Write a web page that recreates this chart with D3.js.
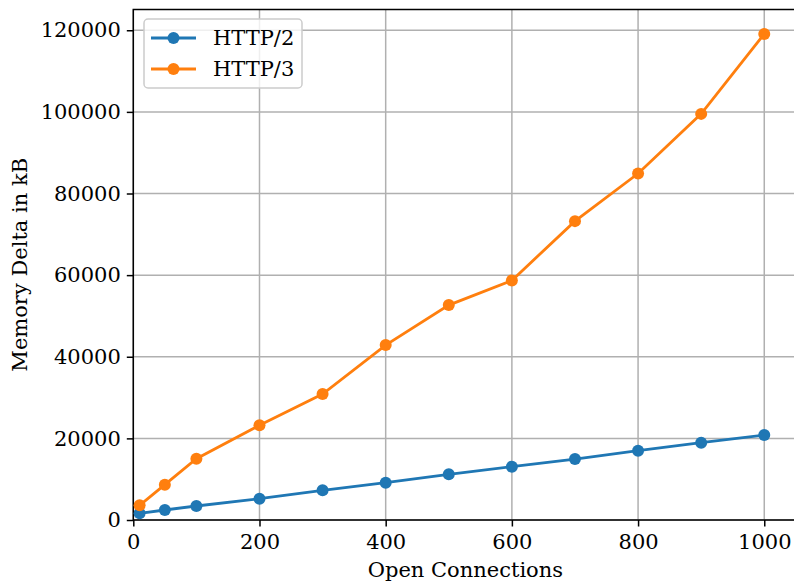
<!DOCTYPE html>
<html>
<head>
<meta charset="utf-8">
<script src="https://cdn.jsdelivr.net/npm/d3@7"></script>
<style>
  body { margin: 0; background: #fff; }
  svg { font-family: "DejaVu Serif", serif; }
</style>
</head>
<body>
<svg width="794" height="581"></svg>
<script>
// Data
const connections = [10, 50, 100, 200, 300, 400, 500, 600, 700, 800, 900, 1000];
const http2 = [1640, 2450, 3430, 5220, 7270, 9140, 11190, 13060, 14940, 16980, 18940, 20820];
const http3 = [3590, 8650, 15020, 23190, 30860, 42860, 52660, 58700, 73230, 84900, 99510, 119100];
const xTicks = [0, 200, 400, 600, 800, 1000];
const yTicks = [0, 20000, 40000, 60000, 80000, 100000, 120000];

const series = [
  { name: "HTTP/2", color: "#1f77b4", values: http2 },
  { name: "HTTP/3", color: "#ff7f0e", values: http3 }
];

const svg = d3.select("svg");
const plotLeft = 133.3, plotRight = 795.5, plotTop = 9.5, plotBottom = 520;
const fontSize = 21;

const x = d3.scaleLinear().domain([0, 1049.5]).range([plotLeft, plotRight]);
const y = d3.scaleLinear().domain([0, 125085]).range([plotBottom, plotTop]);

// Grid
const grid = svg.append("g").attr("stroke", "#b0b0b0").attr("stroke-width", 1.5);
grid.selectAll(".gx").data(xTicks).join("line")
  .attr("x1", d => x(d)).attr("x2", d => x(d))
  .attr("y1", plotTop).attr("y2", plotBottom);
grid.selectAll(".gy").data(yTicks).join("line")
  .attr("x1", plotLeft).attr("x2", plotRight)
  .attr("y1", d => y(d)).attr("y2", d => y(d));

// Axes
const xAxis = svg.append("g")
  .attr("transform", `translate(0,${plotBottom})`)
  .call(d3.axisBottom(x).tickValues(xTicks).tickSize(6.5).tickPadding(8).tickFormat(d3.format("d")));
const yAxis = svg.append("g")
  .attr("transform", `translate(${plotLeft},0)`)
  .call(d3.axisLeft(y).tickValues(yTicks).tickSize(6.5).tickPadding(6).tickFormat(d3.format("d")));

[xAxis, yAxis].forEach(a => {
  a.select(".domain").remove();
  a.selectAll(".tick line").attr("stroke", "#000").attr("stroke-width", 1.5);
  a.selectAll(".tick text").attr("font-size", fontSize).attr("font-family", "DejaVu Serif").attr("fill", "#000");
});

// Spines
svg.append("rect")
  .attr("x", plotLeft).attr("y", plotTop)
  .attr("width", plotRight - plotLeft).attr("height", plotBottom - plotTop)
  .attr("fill", "none").attr("stroke", "#000").attr("stroke-width", 1.5);

// Lines and markers
const line = d3.line().x((d, i) => x(connections[i])).y(d => y(d));
series.forEach(s => {
  svg.append("path")
    .datum(s.values)
    .attr("d", line)
    .attr("fill", "none")
    .attr("stroke", s.color)
    .attr("stroke-width", 2.8);
  svg.append("g").selectAll("circle")
    .data(s.values)
    .join("circle")
    .attr("cx", (d, i) => x(connections[i]))
    .attr("cy", d => y(d))
    .attr("r", 6)
    .attr("fill", s.color);
});

// Axis labels
svg.append("text")
  .attr("x", (plotLeft + plotRight) / 2 + 1)
  .attr("y", 577)
  .attr("text-anchor", "middle")
  .attr("font-size", fontSize)
  .text("Open Connections");

svg.append("text")
  .attr("transform", `translate(27,${(plotTop + plotBottom) / 2}) rotate(-90)`)
  .attr("text-anchor", "middle")
  .attr("font-size", fontSize)
  .text("Memory Delta in kB");

// Legend
const legend = svg.append("g");
legend.append("rect")
  .attr("x", 144).attr("y", 19)
  .attr("width", 158).attr("height", 69)
  .attr("rx", 4)
  .attr("fill", "#fff").attr("fill-opacity", 0.8)
  .attr("stroke", "#cccccc").attr("stroke-width", 1.5);

const item = legend.selectAll(".item")
  .data(series)
  .join("g")
  .attr("transform", (d, i) => `translate(0,${38 + i * 31})`);
item.append("line")
  .attr("x1", 151).attr("x2", 196)
  .attr("stroke", d => d.color).attr("stroke-width", 2.8);
item.append("circle")
  .attr("cx", 173.5).attr("r", 6)
  .attr("fill", d => d.color);
item.append("text")
  .attr("x", 213).attr("dy", "0.35em")
  .attr("font-size", fontSize)
  .text(d => d.name);
</script>
</body>
</html>
